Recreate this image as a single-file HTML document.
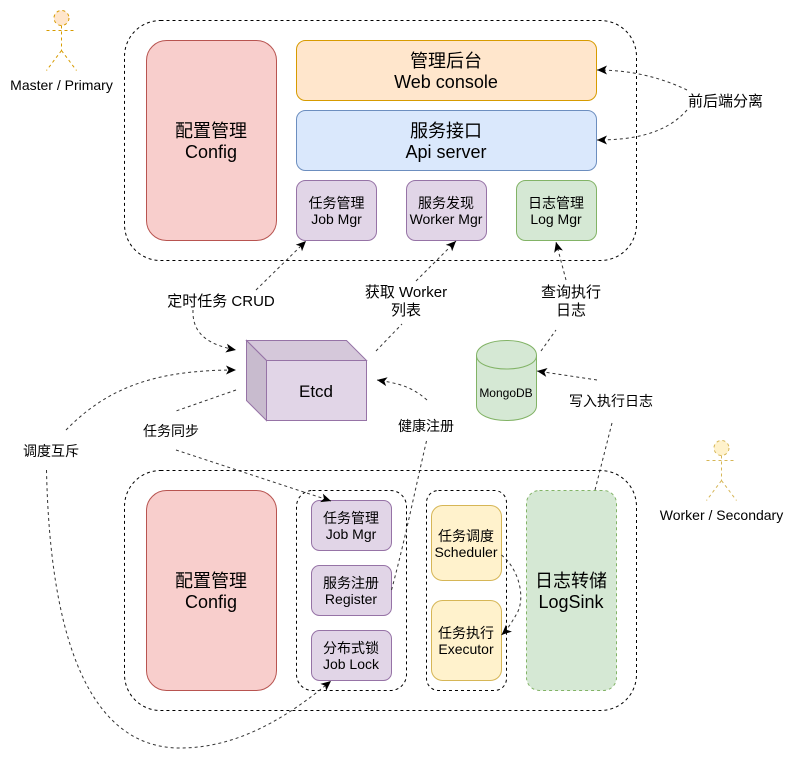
<!DOCTYPE html>
<html><head><meta charset="utf-8"><style>
html,body{margin:0;padding:0;background:#fff}
svg{display:block}
text{font-family:"Liberation Sans","Noto Sans CJK SC",sans-serif;fill:#000;text-anchor:middle}
.a{font-size:18px}.b{font-size:14px}.c{font-size:15px}.d{font-size:12px}
.g{fill:none;stroke:#000;stroke-dasharray:3 3}
.l{fill:none;stroke:#333;stroke-width:1;stroke-dasharray:3 3}
.m{marker-end:url(#h)}
</style></head><body>
<svg width="793" height="759" viewBox="0 0 793 759" xmlns="http://www.w3.org/2000/svg">
<defs><marker id="h" markerUnits="userSpaceOnUse" markerWidth="14" markerHeight="14" refX="11" refY="7" orient="auto"><path d="M1,2.5 L11,7 L1,11.5 L3.5,7Z" fill="#000"/></marker></defs>

<rect class="g" x="124.5" y="20.5" width="512" height="240" rx="36"/>
<rect class="g" x="124.5" y="470.5" width="512" height="240" rx="36"/>
<rect class="g" x="296.5" y="490.5" width="110" height="200" rx="16"/>
<rect class="g" x="426.5" y="490.5" width="80" height="200" rx="12"/>

<rect x="146.5" y="40.5" width="130" height="200" rx="20" fill="#f8cecc" stroke="#b85450"/>
<rect x="296.5" y="40.5" width="300" height="60" rx="9" fill="#ffe6cc" stroke="#d79b00"/>
<rect x="296.5" y="110.5" width="300" height="60" rx="9" fill="#dae8fc" stroke="#6c8ebf"/>
<rect x="296.5" y="180.5" width="80" height="60" rx="9" fill="#e1d5e7" stroke="#9673a6"/>
<rect x="406.5" y="180.5" width="80" height="60" rx="9" fill="#e1d5e7" stroke="#9673a6"/>
<rect x="516.5" y="180.5" width="80" height="60" rx="9" fill="#d5e8d4" stroke="#82b366"/>

<rect x="146.5" y="490.5" width="130" height="200" rx="20" fill="#f8cecc" stroke="#b85450"/>
<rect x="311.5" y="500.5" width="80" height="50" rx="8" fill="#e1d5e7" stroke="#9673a6"/>
<rect x="311.5" y="565.5" width="80" height="50" rx="8" fill="#e1d5e7" stroke="#9673a6"/>
<rect x="311.5" y="630.5" width="80" height="50" rx="8" fill="#e1d5e7" stroke="#9673a6"/>
<rect x="431.5" y="505.5" width="70" height="75" rx="11" fill="#fff2cc" stroke="#d6b656"/>
<rect x="431.5" y="600.5" width="70" height="80" rx="11" fill="#fff2cc" stroke="#d6b656"/>
<rect x="526.5" y="490.5" width="90" height="200" rx="13" fill="#d5e8d4" stroke="#82b366" stroke-dasharray="3 3"/>

<!-- Etcd cube -->
<path d="M246.5,340.5 H346.5 L366.5,360.5 H266.5Z" fill="#d5c8da" stroke="#9673a6"/>
<path d="M246.5,340.5 L266.5,360.5 V420.5 L246.5,400.5Z" fill="#c8bbce" stroke="#9673a6"/>
<rect x="266.5" y="360.5" width="100" height="60" fill="#e1d5e7" stroke="#9673a6"/>

<!-- MongoDB -->
<path d="M476.5,355.5 C476.5,335.5 536.5,335.5 536.5,355.5 V405.5 C536.5,425.5 476.5,425.5 476.5,405.5Z" fill="#d5e8d4" stroke="#82b366"/>
<path d="M476.5,355.5 C476.5,373.5 536.5,373.5 536.5,355.5" fill="none" stroke="#82b366"/>

<!-- Actors -->
<circle cx="61.5" cy="18" r="7.5" fill="#ffe6cc" stroke="#d79b00" stroke-dasharray="3 3"/>
<path d="M61.5,25.5 V50.5 M46.5,30.5 H76.5 M61.5,50.5 L46.5,70.5 M61.5,50.5 L76.5,70.5" fill="none" stroke="#d79b00" stroke-dasharray="3 3"/>
<circle cx="721.5" cy="448" r="7.5" fill="#fff2cc" stroke="#d6b656" stroke-dasharray="3 3"/>
<path d="M721.5,455.5 V480.5 M706.5,460.5 H736.5 M721.5,480.5 L706.5,500.5 M721.5,480.5 L736.5,500.5" fill="none" stroke="#d6b656" stroke-dasharray="3 3"/>

<!-- Connectors -->
<path class="l m" d="M256,290 L306,241"/>
<path class="l m" d="M193,310 C192,335 210,345 236,350"/>
<path class="l" d="M376,351 L402,324"/>
<path class="l m" d="M416,281 L456,241"/>
<path class="l m" d="M566,280 L556,242"/>
<path class="l" d="M541,351 L556,330"/>
<path class="l m" d="M687,90 C660,77 630,70 597,70"/>
<path class="l m" d="M687,110 C665,135 630,140 597,140"/>
<path class="l m" d="M597,380 L537,371"/>
<path class="l" d="M612,423 L595,490"/>
<path class="l m" d="M427,400 C410,385 395,383 377,380"/>
<path class="l" d="M426.5,441 C415,490 405,540 391.5,590"/>
<path class="l" d="M236,390 L176,411"/>
<path class="l m" d="M176,450 L331,501"/>
<path class="l m" d="M66,430 C110,385 160,370 236,370"/>
<path class="l m" d="M46.5,470 C50,640 90,748 180,748 C240,748 290,715 331,681"/>
<path class="l m" d="M501.5,555 C520,570 526,600 516,615 C512,622 507,630 501.5,635"/>

<!-- Text -->
<text class="b" x="61.5" y="90">Master / Primary</text>
<text class="b" x="721.5" y="520">Worker / Secondary</text>

<text class="a" x="211" y="137">配置管理</text><text class="a" x="211" y="158">Config</text>
<text class="a" x="446" y="67">管理后台</text><text class="a" x="446" y="88">Web console</text>
<text class="a" x="446" y="137">服务接口</text><text class="a" x="446" y="158">Api server</text>
<text class="b" x="336.5" y="208">任务管理</text><text class="b" x="336.5" y="224">Job Mgr</text>
<text class="b" x="446" y="208">服务发现</text><text class="b" x="446" y="224">Worker Mgr</text>
<text class="b" x="556" y="208">日志管理</text><text class="b" x="556" y="224">Log Mgr</text>

<text style="font-size:17px" x="316" y="397">Etcd</text>
<text class="d" x="506" y="397">MongoDB</text>

<text class="a" x="211" y="587">配置管理</text><text class="a" x="211" y="608">Config</text>
<text class="b" x="351" y="523">任务管理</text><text class="b" x="351" y="539">Job Mgr</text>
<text class="b" x="351" y="588">服务注册</text><text class="b" x="351" y="604">Register</text>
<text class="b" x="351" y="653">分布式锁</text><text class="b" x="351" y="669">Job Lock</text>
<text class="b" x="466" y="541">任务调度</text><text class="b" x="466" y="557">Scheduler</text>
<text class="b" x="466" y="638">任务执行</text><text class="b" x="466" y="654">Executor</text>
<text class="a" x="571" y="587">日志转储</text><text class="a" x="571" y="608">LogSink</text>

<text class="c" x="221" y="306">定时任务 CRUD</text>
<text class="c" x="406" y="297">获取 Worker</text><text class="c" x="406" y="315">列表</text>
<text class="c" x="571" y="297">查询执行</text><text class="c" x="571" y="315">日志</text>
<text class="c" x="725.5" y="106">前后端分离</text>
<text class="b" x="611" y="406">写入执行日志</text>
<text class="b" x="426" y="431">健康注册</text>
<text class="b" x="171" y="436">任务同步</text>
<text class="b" x="51" y="456">调度互斥</text>
</svg>
</body></html>
